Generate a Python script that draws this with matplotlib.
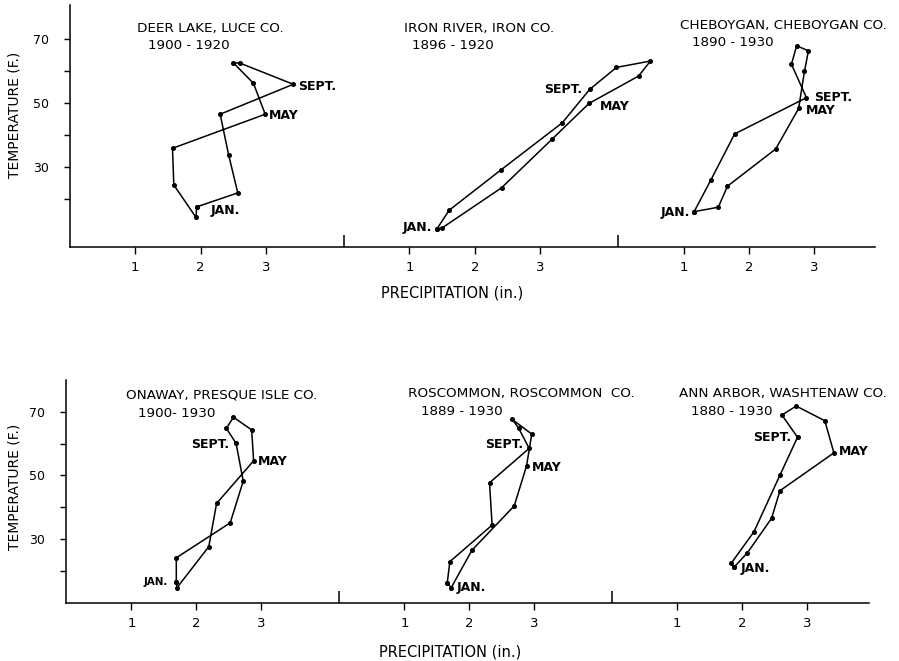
import matplotlib
matplotlib.use('Agg')
import matplotlib.pyplot as plt

# monthly means, Jan..Dec : precipitation (in.) and temperature (F.)
deer_precip = [1.94, 1.93, 1.59, 1.57, 2.99, 2.81, 2.50, 2.61, 3.42, 2.30, 2.43, 2.57]
deer_temp = [17.4, 14.1, 24.3, 35.8, 46.5, 56.2, 62.7, 62.5, 55.9, 46.5, 33.7, 21.8]

iron_precip = [1.42, 1.50, 2.41, 3.18, 3.75, 4.51, 4.69, 4.17, 3.76, 3.34, 2.40, 1.61]
iron_temp = [10.5, 10.8, 23.4, 38.6, 49.9, 58.5, 63.2, 61.2, 54.3, 43.8, 29.0, 16.4]

cheb_precip = [1.16, 1.53, 1.67, 2.41, 2.76, 2.85, 2.91, 2.73, 2.65, 2.88, 1.78, 1.42]
cheb_temp = [15.9, 17.3, 23.9, 35.6, 48.3, 60.0, 66.4, 68.0, 62.2, 51.7, 40.3, 26.0]

onaway_precip = [1.69, 1.70, 2.19, 2.31, 2.88, 2.85, 2.57, 2.46, 2.61, 2.72, 2.52, 1.69]
onaway_temp = [16.6, 14.7, 27.6, 41.2, 54.6, 64.3, 68.3, 64.8, 60.1, 48.2, 35.1, 24.1]

rosc_precip = [1.66, 1.72, 2.04, 2.69, 2.88, 2.96, 2.66, 2.76, 2.92, 2.31, 2.35, 1.70]
rosc_temp = [16.3, 14.7, 26.5, 40.4, 53.0, 63.0, 67.6, 64.8, 58.5, 47.7, 34.4, 22.9]

ann_precip = [1.88, 2.08, 2.45, 2.58, 3.41, 3.27, 2.83, 2.61, 2.85, 2.58, 2.18, 1.83]
ann_temp = [21.3, 25.7, 36.5, 45.2, 57.1, 67.2, 71.8, 69.0, 62.0, 50.1, 32.3, 22.4]

titles = ['DEER LAKE, LUCE CO.', 'IRON RIVER, IRON CO.', 'CHEBOYGAN, CHEBOYGAN CO.',
          'ONAWAY, PRESQUE ISLE CO.', 'ROSCOMMON, ROSCOMMON  CO.', 'ANN ARBOR, WASHTENAW CO.']
periods = ['1900 - 1920', '1896 - 1920', '1890 - 1930',
           '1900- 1930', '1889 - 1930', '1880 - 1930']
precip_ticks = [1, 2, 3]
temp_major = [30, 50, 70]
temp_minor = [20, 40, 60]

precips = [deer_precip, iron_precip, cheb_precip, onaway_precip, rosc_precip, ann_precip]
temps = [deer_temp, iron_temp, cheb_temp, onaway_temp, rosc_temp, ann_temp]

# layout: panel offsets along the shared x axis, label positions in panel units
offsets = [0, 4.2, 8.4]
title_pos = [(1.02, 73.5, 1.19, 68.2), (0.91, 73.5, 1.04, 68.2), (0.94, 74.3, 1.12, 68.9),
             (0.92, 75.3, 1.10, 69.5), (1.06, 75.8, 1.25, 70.0), (1.02, 75.8, 1.21, 70.0)]
sept_pos = [(3.50, 55.1), (3.06, 54.3), (3.00, 51.7), (1.92, 59.6), (2.25, 59.8), (2.17, 62.0)]
may_pos = [(3.05, 46.2), (3.92, 48.8), (2.87, 47.8), (2.95, 54.3), (2.96, 52.4), (3.48, 57.5)]
jan_pos = [(2.15, 16.4), (0.90, 10.8), (0.65, 15.6), (1.19, 16.6), (1.80, 14.7), (1.98, 20.8)]
jan_size = [9, 9, 9, 7.4, 9, 9]

W, H = 899, 661
fig = plt.figure(figsize=(W / 100, H / 100), dpi=100)
ax_top = fig.add_axes([70 / W, 1 - 246.7 / H, 805 / W, 241.7 / H])
ax_bot = fig.add_axes([65.7 / W, 1 - 603.3 / H, 803.3 / W, 223.3 / H])
ax_top.set_xlim(0, 12.33)
ax_top.set_ylim(4.9, 80.8)
ax_bot.set_xlim(-0.012, 12.35)
ax_bot.set_ylim(9.8, 80.0)

for row, ax in enumerate([ax_top, ax_bot]):
    for s in ['top', 'right']:
        ax.spines[s].set_visible(False)
    for s in ['left', 'bottom']:
        ax.spines[s].set_linewidth(1.1)
    xt = [o + t for o in offsets for t in precip_ticks]
    ax.set_xticks(xt)
    ax.set_xticklabels([str(t) for o in offsets for t in precip_ticks], fontsize=9.5)
    ax.set_xticks(offsets[1:], minor=True)
    ax.set_yticks(temp_major)
    ax.set_yticklabels([str(t) for t in temp_major], fontsize=9)
    ax.set_yticks(temp_minor, minor=True)
    ax.tick_params(axis='x', which='major', direction='out', length=5, width=1, pad=5)
    ax.tick_params(axis='x', which='minor', direction='in', length=9, width=1.1)
    ax.tick_params(axis='y', which='both', direction='out', length=4, width=1, pad=11)

    for k in range(3):
        i = row * 3 + k
        off = offsets[k]
        xs = [off + p for p in precips[i]] + [off + precips[i][0]]
        ys = temps[i] + [temps[i][0]]
        ax.plot(xs, ys, color='black', lw=1.1, marker='o', ms=2.6, clip_on=False)
        tx, ty, px, py = title_pos[i]
        ax.text(off + tx, ty, titles[i], fontsize=9.7, va='center', ha='left')
        ax.text(off + px, py, periods[i], fontsize=9.7, va='center', ha='left')
        ax.text(off + sept_pos[i][0], sept_pos[i][1], 'SEPT.', fontsize=9,
                fontweight='bold', va='center', ha='left')
        ax.text(off + may_pos[i][0], may_pos[i][1], 'MAY', fontsize=9,
                fontweight='bold', va='center', ha='left')
        ax.text(off + jan_pos[i][0], jan_pos[i][1], 'JAN.', fontsize=jan_size[i],
                fontweight='bold', va='center', ha='left')

fig.text(15 / W, 1 - 115 / H, 'TEMPERATURE (F.)', rotation=90, fontsize=10,
         ha='center', va='center')
fig.text(15 / W, 1 - 487 / H, 'TEMPERATURE (F.)', rotation=90, fontsize=10,
         ha='center', va='center')
fig.text(452 / W, 1 - 293 / H, 'PRECIPITATION (in.)', fontsize=10.5, ha='center', va='center')
fig.text(450 / W, 1 - 652 / H, 'PRECIPITATION (in.)', fontsize=10.5, ha='center', va='center')

fig.savefig('out.png', dpi=100)
